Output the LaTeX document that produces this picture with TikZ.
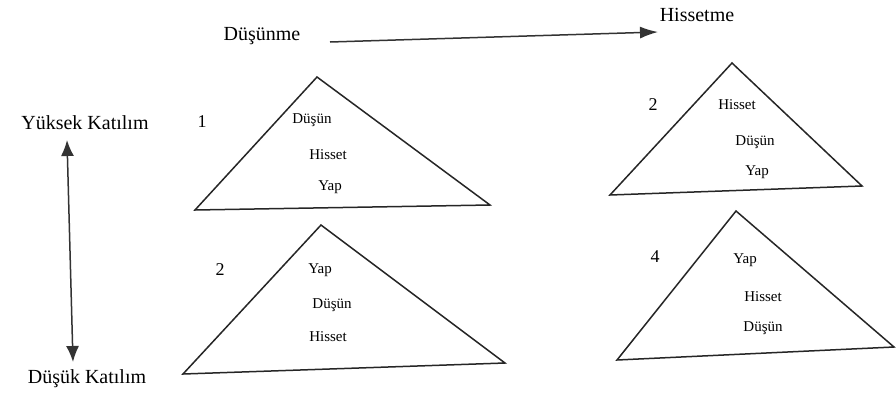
\documentclass[tikz,border=0pt]{standalone}
\usepackage{fontspec}
\setmainfont{Liberation Serif}
\usetikzlibrary{arrows.meta}
\begin{document}
\begin{tikzpicture}[x=1pt,y=-1pt,
  lbl/.style={font=\fontsize{20}{22}\selectfont, inner sep=0pt},
  num/.style={font=\fontsize{18}{20}\selectfont, inner sep=0pt},
  inr/.style={font=\fontsize{15}{17}\selectfont, inner sep=0pt},
  tri/.style={draw=black!85, line width=1.5pt, line join=miter},
  arr/.style={draw=black!80, line width=1.5pt, -{Latex[length=18pt,width=12pt]}},
  darr/.style={draw=black!80, line width=1.5pt, {Latex[length=16pt,width=13pt]}-{Latex[length=16pt,width=13pt]}}]
\useasboundingbox (0,0) rectangle (896,397);
\fill[white] (0,0) rectangle (896,397);
% headings
\node[lbl] (dus) at (262,36) {Düşünme};
\node[lbl] (his) at (697,15) {Hissetme};
\coordinate (ha) at (330,42);
\coordinate (hb) at (658,32);
\draw[arr] (ha) -- (hb);
% left axis
\node[lbl] (yk) at (85,123) {Yüksek Katılım};
\node[lbl] (dk) at (87,379) {Düşük Katılım};
\coordinate (va) at (67,140);
\coordinate (vb) at (73,362);
\draw[darr] (va) -- (vb);
% triangle 1
\coordinate (t1a) at (317,77);
\coordinate (t1b) at (195,210);
\coordinate (t1c) at (490,205);
\draw[tri] (t1a) -- (t1b) -- (t1c) -- cycle;
\node[num] (n1) at (202,122) {1};
\node[inr] (t1x) at (312,120) {Düşün};
\node[inr] (t1y) at (328,155) {Hisset};
\node[inr] (t1z) at (330,187) {Yap};
% triangle 2
\coordinate (t2a) at (732,63);
\coordinate (t2b) at (610,195);
\coordinate (t2c) at (862,186);
\draw[tri] (t2a) -- (t2b) -- (t2c) -- cycle;
\node[num] (n2) at (653,105) {2};
\node[inr] (t2x) at (737,105) {Hisset};
\node[inr] (t2y) at (755,142) {Düşün};
\node[inr] (t2z) at (757,172) {Yap};
% triangle 3
\coordinate (t3a) at (321,225);
\coordinate (t3b) at (183,374);
\coordinate (t3c) at (505,363);
\draw[tri] (t3a) -- (t3b) -- (t3c) -- cycle;
\node[num] (n3) at (220,270) {2};
\node[inr] (t3x) at (320,270) {Yap};
\node[inr] (t3y) at (332,305) {Düşün};
\node[inr] (t3z) at (328,337) {Hisset};
% triangle 4
\coordinate (t4a) at (736,211);
\coordinate (t4b) at (617,360);
\coordinate (t4c) at (894,347);
\draw[tri] (t4a) -- (t4b) -- (t4c) -- cycle;
\node[num] (n4) at (655,257) {4};
\node[inr] (t4x) at (745,260) {Yap};
\node[inr] (t4y) at (763,297) {Hisset};
\node[inr] (t4z) at (763,328) {Düşün};
\end{tikzpicture}
\end{document}
